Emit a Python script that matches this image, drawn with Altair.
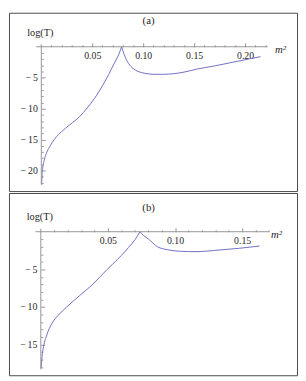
import altair as alt
import pandas as pd

# ---------------- data ----------------
m2_a = [0.0003, 0.0006, 0.0013, 0.0029, 0.0055, 0.0087, 0.0135, 0.020, 0.028,
        0.0375, 0.045, 0.052, 0.0567, 0.0638, 0.0685, 0.0728, 0.0766, 0.0788,
        0.0812, 0.0835, 0.0856, 0.090, 0.095, 0.102, 0.111, 0.120, 0.130,
        0.140, 0.153, 0.170, 0.185, 0.200, 0.215]
logT_a = [-22.2, -21.0, -19.7, -18.3, -17.0, -16.0, -14.8, -13.7, -12.6,
          -11.3, -9.9, -8.4, -7.2, -5.2, -3.7, -2.3, -1.0, 0.0,
          -1.2, -2.1, -2.7, -3.5, -4.0, -4.3, -4.45, -4.45, -4.35,
          -4.1, -3.6, -3.1, -2.6, -2.1, -1.6]
branch_a = ["L"] * 18 + ["R"] * 15

m2_b = [0.0002, 0.0009, 0.002, 0.0045, 0.0082, 0.013, 0.019, 0.0288, 0.0374,
        0.0495, 0.057, 0.0629, 0.0653, 0.0702, 0.0739,
        0.0765, 0.080, 0.087, 0.0945, 0.104, 0.1164, 0.1286, 0.148, 0.163]
logT_b = [-18.1, -16.6, -15.3, -13.7, -12.2, -11.1, -10.05, -8.5, -7.2,
          -5.0, -3.7, -2.6, -2.1, -1.05, 0.0,
          -0.5, -0.95, -2.0, -2.4, -2.6, -2.65, -2.5, -2.2, -1.9]
branch_b = ["L"] * 15 + ["R"] * 9

# plot ranges of the two panels
xrange_a = [-0.005, 0.222]
yrange_a = [-22.3, 0.4]
xrange_b = [-0.004, 0.170]
yrange_b = [-18.3, 0.4]

# ticks
xmajor_a = [0.05, 0.10, 0.15, 0.20]
xminor_a = [0.01, 0.02, 0.03, 0.04, 0.06, 0.07, 0.08, 0.09, 0.11, 0.12, 0.13,
            0.14, 0.16, 0.17, 0.18, 0.19, 0.21, 0.22]
ymajor_a = [-20, -15, -10, -5]
yminor_a = [-22, -21, -19, -18, -17, -16, -14, -13, -12, -11, -9, -8, -7, -6,
            -4, -3, -2, -1]

xmajor_b = [0.05, 0.10, 0.15]
xminor_b = [0.01, 0.02, 0.03, 0.04, 0.06, 0.07, 0.08, 0.09, 0.11, 0.12, 0.13,
            0.14, 0.16, 0.17]
ymajor_b = [-15, -10, -5]
yminor_b = [-18, -17, -16, -14, -13, -12, -11, -9, -8, -7, -6, -4, -3, -2, -1]

# ---------------- style ----------------
FONT = "Liberation Serif"
LINE_COLOR = "#6e6ec4"
AXIS_COLOR = "#939393"
TEXT_COLOR = "#262626"
W = 294


def panel(m2, logT, branch, xr, yr, xmaj, xmin_, ymaj, ymin_, H, x0, xpx, y0,
          ypx, label, label_y, ytitle_y, mtitle_x):
    xs = alt.Scale(domain=xr, range=[x0 + xr[0] * xpx, x0 + xr[1] * xpx],
                   nice=False, zero=False)
    ys = alt.Scale(domain=yr, range=[y0 - yr[0] * ypx, y0 - yr[1] * ypx],
                   nice=False, zero=False)

    curve = pd.DataFrame({"m2": m2, "logT": logT, "branch": branch})
    # the peak belongs to both branches
    peak = curve[curve["logT"] == curve["logT"].max()].copy()
    peak["branch"] = "R"
    curve = pd.concat([curve, peak]).sort_values(["branch", "m2"])

    xaxis = pd.DataFrame({"xa": [xr[0]], "xb": [xr[1]], "y": [0.0]})
    yaxis = pd.DataFrame({"x": [0.0], "ya": [yr[0]], "yb": [yr[1]]})

    common = dict(grid=False, domain=False)

    line = alt.Chart(curve).mark_line(
        color=LINE_COLOR, strokeWidth=1.0, interpolate="monotone"
    ).encode(
        x=alt.X("m2:Q", scale=xs,
                axis=alt.Axis(orient="top", offset=-y0, values=xmaj,
                              labels=False, tickSize=4, tickColor=AXIS_COLOR,
                              title=label, titleFont=FONT, titleFontSize=11,
                              titleFontWeight="normal", titleColor=TEXT_COLOR,
                              titleX=142, titleY=label_y - y0,
                              titleAlign="center", titleBaseline="middle",
                              titleAngle=0, **common)),
        y=alt.Y("logT:Q", scale=ys,
                axis=alt.Axis(orient="right", offset=-(W - x0), values=ymaj,
                              labels=False, tickSize=4, tickColor=AXIS_COLOR,
                              title=None, **common)),
        detail="branch:N",
    )

    xline = alt.Chart(xaxis).mark_rule(color=AXIS_COLOR, strokeWidth=1).encode(
        x=alt.X("xa:Q", scale=xs,
                axis=alt.Axis(orient="top", offset=-y0, values=xmin_,
                              labels=False, tickSize=2, tickColor=AXIS_COLOR,
                              title=None, **common)),
        x2="xb:Q",
        y=alt.Y("y:Q", scale=ys,
                axis=alt.Axis(orient="right", offset=-(W - x0), values=ymin_,
                              labels=False, tickSize=2, tickColor=AXIS_COLOR,
                              title=None, **common)),
    )

    yline = alt.Chart(yaxis).mark_rule(color=AXIS_COLOR, strokeWidth=1).encode(
        x=alt.X("x:Q", scale=xs,
                axis=alt.Axis(orient="bottom", offset=-(H - y0), values=xmaj,
                              format=".2f", ticks=False, tickSize=0,
                              domain=False, grid=False, labelPadding=4,
                              labelFlush=False, labelOverlap=False,
                              labelFont=FONT, labelFontSize=10,
                              labelColor=TEXT_COLOR,
                              title="m²", titleFont=FONT, titleFontSize=11,
                              titleFontStyle="italic", titleFontWeight="normal",
                              titleColor=TEXT_COLOR, titleX=mtitle_x, titleY=5.5,
                              titleAlign="left", titleBaseline="alphabetic",
                              titleAngle=0)),
        y=alt.Y("ya:Q", scale=ys,
                axis=alt.Axis(orient="left", offset=-x0, values=ymaj,
                              labelExpr="'\u2212\u2009' + abs(datum.value)",
                              ticks=False, tickSize=0, domain=False, grid=False,
                              labelPadding=4, labelFlush=False,
                              labelOverlap=False, labelFont=FONT,
                              labelFontSize=10, labelColor=TEXT_COLOR,
                              title="log(T)", titleFont=FONT, titleFontSize=10.5,
                              titleFontWeight="normal", titleColor=TEXT_COLOR,
                              titleAngle=0, titleX=-1.5, titleY=ytitle_y,
                              titleAlign="center", titleBaseline="middle")),
        y2="yb:Q",
    )

    return alt.layer(line, xline, yline).resolve_axis(
        x="independent", y="independent"
    ).properties(width=W, height=H)


pa = panel(m2_a, logT_a, branch_a, xrange_a, yrange_a, xmajor_a, xminor_a,
           ymajor_a, yminor_a, H=182, x0=33, xpx=1040, y0=34.7, ypx=6.32,
           label="(a)", label_y=7.5, ytitle_y=20.3, mtitle_x=271)
pb = panel(m2_b, logT_b, branch_b, xrange_b, yrange_b, xmajor_b, xminor_b,
           ymajor_b, yminor_b, H=186, x0=32.5, xpx=1370, y0=39.5, ypx=7.68,
           label="(b)", label_y=15, ytitle_y=24.3, mtitle_x=267)

chart = alt.vconcat(pa, pb, spacing=0).properties(padding=0).configure_view(
    stroke="#4a4a4a", strokeWidth=1
)

chart.save("out.html", embed_options={"renderer": "svg", "actions": False})
